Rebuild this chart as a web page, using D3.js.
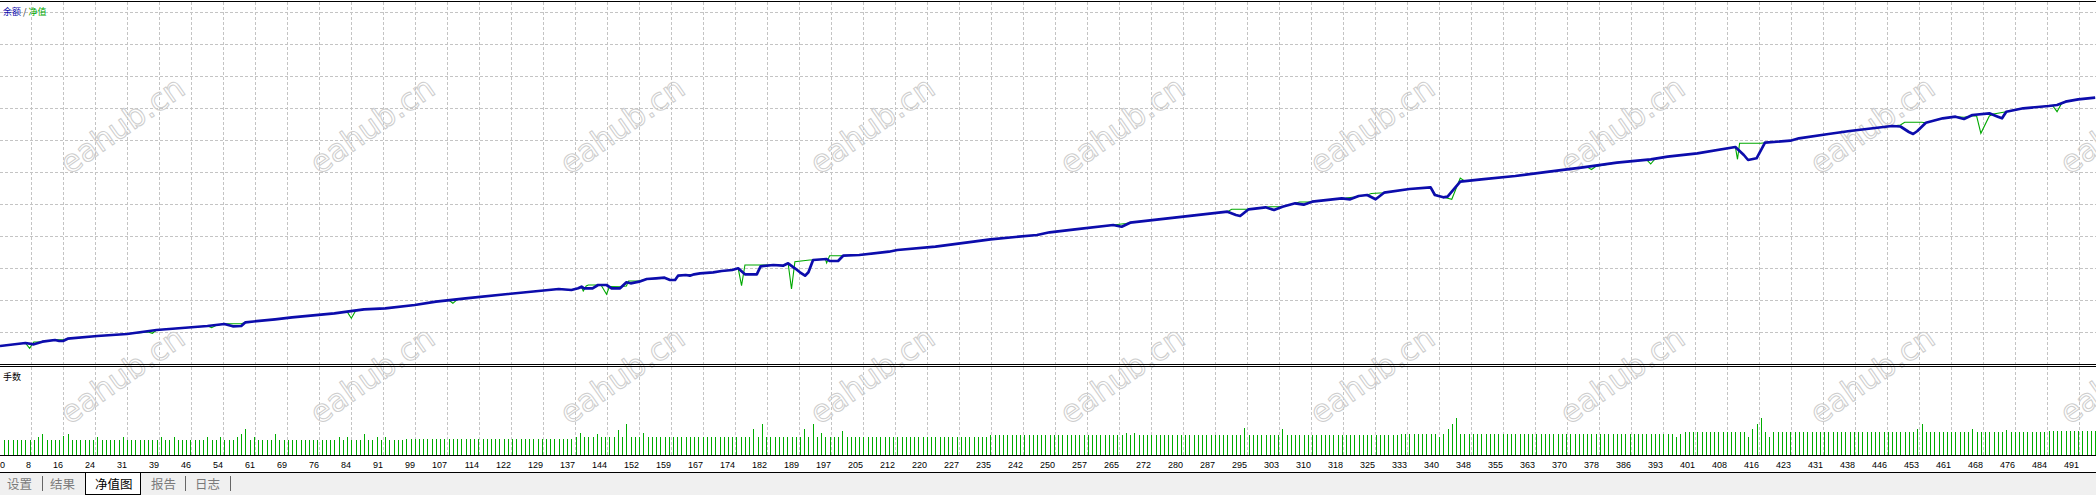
<!DOCTYPE html>
<html><head><meta charset="utf-8">
<script src="https://cdn.jsdelivr.net/npm/d3@7"></script>
<style>
html,body{margin:0;padding:0;background:#fff;overflow:hidden}
svg{display:block}
</style></head>
<body>
<script>
// ---------- data ----------
const tradeCount = 495.2;
const tickLabels = [0,8,16,24,31,39,46,54,61,69,76,84,91,99,107,114,122,129,137,144,152,159,167,174,182,189,197,205,212,220,227,235,242,250,257,265,272,280,287,295,303,310,318,325,333,340,348,355,363,370,378,386,393,401,408,416,423,431,438,446,453,461,468,476,484,491];
const legendItems = ["余额", " / ", "净值"];
const subTitle = "手数";
const tabs = ["设置","结果","净值图","报告","日志"];
const activeTab = "净值图";
const watermark = "eahub.cn";

const balance = [[0,10000],[6,10030],[8,10017],[10,10043],[13,10060],[14,10050],[15,10052],[16,10073],[23,10100],[30,10120],[37,10160],[49,10200],[53,10220],[55,10197],[57,10200],[58,10237],[65,10267],[69,10287],[79,10327],[82,10343],[86,10367],[91,10377],[98,10410],[103,10443],[110,10477],[120,10520],[132,10570],[135,10560],[136.6,10577],[137.4,10593],[138,10577],[140,10577],[141.3,10610],[143.3,10610],[144.5,10577],[146.5,10577],[148,10637],[149,10627],[151,10643],[152.8,10670],[155,10677],[157,10683],[158.3,10660],[159.5,10660],[160.2,10703],[162,10710],[163,10703],[164,10717],[165.4,10727],[168.5,10737],[170.5,10750],[173,10760],[174.4,10777],[176,10717],[178.8,10717],[179.7,10797],[182.7,10810],[185,10803],[186.2,10827],[187.8,10777],[189,10737],[190.2,10703],[191,10737],[192.1,10860],[195.3,10870],[196,10850],[198,10850],[199.2,10903],[203,10910],[210,10943],[212,10960],[221,10993],[230,11043],[234,11067],[245,11110],[248,11137],[254,11167],[263,11210],[265,11193],[267,11233],[278,11287],[290,11343],[292,11310],[293,11300],[295,11367],[299,11387],[301,11360],[303,11393],[306,11427],[308,11413],[310,11443],[317,11477],[319,11467],[321,11500],[323,11510],[325,11467],[327,11533],[333,11570],[338,11587],[339,11510],[341,11487],[342,11493],[345,11643],[350,11667],[358,11700],[366,11743],[374,11787],[382,11833],[390,11867],[394,11893],[401,11927],[410,11990],[412,11910],[413,11860],[415,11877],[417,12033],[423,12053],[425,12077],[432,12120],[437,12150],[441,12170],[447,12200],[449,12195],[451,12140],[452,12120],[453,12150],[455,12233],[459,12277],[462,12293],[464,12270],[466,12310],[470,12327],[472,12293],[473,12277],[474,12343],[478,12377],[484,12400],[486,12410],[488,12443],[491,12467],[495,12483]];

const equity = [[0,10000],[6,10030],[7,9977],[8,10040],[10,10043],[13,10063],[15,10063],[16,10073],[23,10100],[30,10120],[35,10140],[36,10127],[37,10160],[49,10200],[50,10183],[51,10205],[53,10222],[57,10222],[58,10237],[65,10267],[69,10287],[79,10327],[82,10343],[83,10277],[84,10350],[86,10367],[91,10377],[98,10410],[103,10443],[106,10460],[107,10427],[108,10465],[110,10477],[120,10520],[132,10570],[135,10560],[136.6,10577],[137.4,10590],[137.8,10550],[138.5,10600],[139,10610],[141.3,10610],[142,10610],[143.3,10517],[144,10595],[146.5,10593],[148,10600],[148.5,10650],[151,10650],[152.8,10670],[155,10677],[157,10683],[158,10663],[159.5,10663],[160.2,10703],[162,10710],[164,10717],[165.4,10727],[168.5,10737],[170.5,10750],[173,10760],[174.4,10777],[175.2,10603],[176,10810],[179.5,10810],[182.7,10810],[185,10803],[186.2,10827],[187,10570],[187.8,10843],[191.3,10860],[192.1,10860],[195,10870],[195.3,10830],[196,10903],[199.2,10903],[203,10910],[210,10943],[212,10960],[221,10993],[230,11043],[234,11067],[245,11110],[248,11137],[254,11167],[263,11210],[264,11215],[266,11225],[267,11233],[278,11287],[290,11343],[291,11367],[294,11367],[295,11367],[299,11387],[300,11393],[302,11393],[303,11393],[306,11427],[307,11440],[309,11440],[310,11443],[317,11477],[318,11480],[320,11490],[321,11500],[323,11510],[324,11525],[326,11530],[327,11533],[333,11570],[338,11587],[339,11520],[340,11500],[343,11467],[345,11680],[346,11650],[350,11667],[358,11700],[366,11743],[374,11787],[375,11790],[376,11765],[377,11795],[382,11833],[389,11863],[390,11820],[391,11870],[394,11893],[401,11927],[410,11990],[410.5,11867],[411,12027],[416,12027],[417,12033],[423,12053],[425,12077],[432,12120],[437,12150],[441,12170],[447,12200],[449,12210],[450,12237],[454,12237],[455,12233],[459,12277],[462,12293],[464,12287],[466,12300],[467,12300],[468,12127],[470,12300],[471,12320],[474,12343],[478,12377],[484,12400],[485,12400],[486,12343],[487,12420],[488,12443],[491,12467],[495,12483]];

// lot sizes: runs of equal lots [from, to, lots] and single differing trades [trade, lots]
const lotRuns = [[1,95,0.15],[96,135,0.16],[136,233,0.18],[234,330,0.20],[331,397,0.21],[398,483,0.23],[484,495,0.24]];
const lotSingles = [[9,0.18],[10,0.21],[15,0.19],[16,0.21],[23,0.18],[29,0.18],[38,0.18],[41,0.18],[49,0.18],[52,0.18],[56,0.18],[57,0.21],[58,0.26],[60,0.18],[65,0.21],[80,0.18],[82,0.18],[86,0.21],[89,0.18],[91,0.18],
 [137,0.22],[141,0.21],[146,0.25],[148,0.31],[152,0.22],[178,0.26],[180,0.31],[190,0.26],[192,0.31],[194,0.22],[199,0.24],
 [266,0.22],[268,0.22],[294,0.27],[303,0.26],[340,0.18],[342,0.26],[343,0.31],[344,0.37],[396,0.18],[413,0.18],[414,0.26],[415,0.31],[416,0.37],[418,0.18],[453,0.26],[454,0.31],[466,0.26],[474,0.25]];

// ---------- layout ----------
const W = 2096, H = 495;
const mainTop = 2, mainBottom = 364;
const subTop = 367, subBottom = 455;
const gridStep = 32;

const svg = d3.select("body").append("svg").attr("width", W).attr("height", H);
svg.append("rect").attr("width", W).attr("height", H).attr("fill", "#fff");

const x = d3.scaleLinear().domain([0, tradeCount]).range([0, W]);
const y = d3.scaleLinear().domain([9820, 13440]).range([mainBottom, mainTop]);
const yLots = d3.scaleLinear().domain([0, 0.88]).range([subBottom, subTop]);
const gx = d3.scaleLinear().domain([0, 1]).range([0, gridStep]); // tick slot -> pixel

// grid
const grid = svg.append("g").attr("stroke", "#c4c4c4").attr("stroke-width", 1)
  .attr("stroke-dasharray", "3,2").attr("shape-rendering", "crispEdges");
const hCount = Math.floor((mainBottom - mainTop) / gridStep);
grid.selectAll("line.h").data(d3.range(1, hCount + 1)).join("line")
  .attr("x1", 0).attr("x2", W)
  .attr("y1", d => mainBottom - d * gridStep + 0.5).attr("y2", d => mainBottom - d * gridStep + 0.5);
grid.selectAll("line.v").data(d3.range(1, tickLabels.length)).join("line")
  .attr("x1", d => gx(d) - 0.5).attr("x2", d => gx(d) - 0.5)
  .attr("y1", mainTop).attr("y2", subBottom + 2);

// watermarks
const wm = svg.append("g").attr("font-family", "DejaVu Sans").attr("font-size", 31)
  .attr("fill", "none").attr("stroke", "#cdcdcd").attr("stroke-width", 1);
const wmPos = [];
for (let r = 0; r < 2; r++) for (let c = 0; c < 9; c++) wmPos.push([122 + 250 * c, 125 + 250 * r]);
wm.selectAll("text").data(wmPos).join("text")
  .attr("transform", d => `translate(${d[0]},${d[1]}) rotate(-35)`)
  .attr("text-anchor", "middle").attr("dominant-baseline", "central").text(watermark);

// lines
const line = d3.line().x(d => x(d[0])).y(d => y(d[1]));
svg.append("path").datum(equity).attr("d", line).attr("fill", "none")
  .attr("stroke", "#00a800").attr("stroke-width", 1.1);
svg.append("path").datum(balance).attr("d", line).attr("fill", "none")
  .attr("stroke", "#0c0cac").attr("stroke-width", 2.7).attr("stroke-linejoin", "round");

// lots
const lots = [];
lotRuns.forEach(([a, b, v]) => { for (let i = a; i <= b; i++) lots[i] = v; });
lotSingles.forEach(([i, v]) => { lots[i] = v; });
const lotData = lots.map((v, i) => ({ i, v })).filter(d => d && d.v);
svg.append("g").attr("shape-rendering", "crispEdges").selectAll("rect").data(lotData).join("rect")
  .attr("x", d => Math.round(x(d.i)) - 0.5).attr("width", 1.2)
  .attr("y", d => yLots(d.v)).attr("height", d => subBottom - yLots(d.v))
  .attr("fill", "#00ac00");

// frame lines
const fr = svg.append("g").attr("stroke", "#000").attr("shape-rendering", "crispEdges");
fr.append("line").attr("x1", 0).attr("x2", W).attr("y1", 1.5).attr("y2", 1.5);
fr.append("line").attr("x1", 0).attr("x2", W).attr("y1", 364.5).attr("y2", 364.5);
fr.append("line").attr("x1", 0).attr("x2", W).attr("y1", 366.5).attr("y2", 366.5);
fr.append("line").attr("x1", 0).attr("x2", W).attr("y1", 455.5).attr("y2", 455.5);

// legend
const lg = svg.append("text").attr("x", 3).attr("y", 10.5).attr("dominant-baseline", "central")
  .attr("font-family", "Noto Sans CJK SC").attr("font-size", 9);
const legendColors = ["#0c0cac", "#333", "#00a800"];
lg.selectAll("tspan").data(legendItems).join("tspan").attr("fill", (d, i) => legendColors[i])
  .attr("xml:space", "preserve").text(d => d);
svg.append("text").attr("x", 3).attr("y", 376).attr("dominant-baseline", "central")
  .attr("font-family", "Noto Sans CJK SC").attr("font-size", 9).attr("fill", "#000").text(subTitle);

// x tick labels
svg.append("g").attr("font-family", "Liberation Sans").attr("font-size", 9).attr("fill", "#000")
  .selectAll("text").data(tickLabels).join("text")
  .attr("x", (d, k) => k === 0 ? 0 : gx(k) - 1)
  .attr("text-anchor", (d, k) => k === 0 ? "start" : "end")
  .attr("y", 467.5).text(d => d);

// tab bar
svg.append("rect").attr("x", 0).attr("y", 473).attr("width", W).attr("height", H - 473).attr("fill", "#f0f0f0");
svg.append("line").attr("x1", 0).attr("x2", W).attr("y1", 472.5).attr("y2", 472.5)
  .attr("stroke", "#000").attr("shape-rendering", "crispEdges");
const tabX = [7, 50, 95, 151, 195];
const sepX = [42, 185, 230];
svg.append("path").attr("d", "M85.5,472.5V494.5H140.5V472.5").attr("fill", "#fff")
  .attr("stroke", "#000").attr("shape-rendering", "crispEdges");
svg.append("g").attr("font-family", "Noto Sans CJK SC").attr("font-size", 12.5)
  .selectAll("text").data(tabs).join("text")
  .attr("x", (d, i) => tabX[i]).attr("y", 483).attr("dominant-baseline", "central")
  .attr("fill", d => d === activeTab ? "#000" : "#7a7a7a").text(d => d);
svg.append("g").attr("stroke", "#666").attr("shape-rendering", "crispEdges")
  .selectAll("line").data(sepX).join("line")
  .attr("x1", d => d + 0.5).attr("x2", d => d + 0.5).attr("y1", 476).attr("y2", 491);
</script>
</body></html>
